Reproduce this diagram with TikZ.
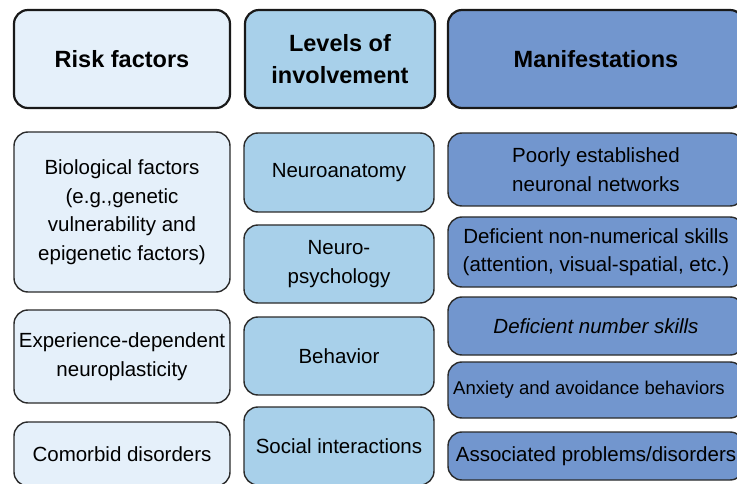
\documentclass[tikz,border=0pt]{standalone}
\usepackage{fontspec}
\setmainfont{Liberation Sans}
\usepackage{xcolor}
\usepackage{tikz}
\definecolor{riskfill}{HTML}{E5F0FA}
\definecolor{levelfill}{HTML}{A8D0EA}
\definecolor{maniffill}{HTML}{7296CE}
\definecolor{edge}{HTML}{2B2B2B}

\begin{document}
\begin{tikzpicture}[x=1pt,y=-1pt,
  box/.style={draw=edge, line width=1.4pt, rounded corners=14pt, inner sep=0pt,
    align=center, font=\fontsize{20.5}{28.5}\selectfont},
  head/.style={box, line width=2.2pt, draw=black!90, minimum height=98pt,
    font=\fontsize{23.5}{32}\selectfont\bfseries},
  risk/.style={fill=riskfill, minimum width=216pt},
  level/.style={fill=levelfill, minimum width=190pt},
  manif/.style={fill=maniffill, minimum width=296pt}]
\useasboundingbox (0,0) rectangle (737,484);
\fill[white] (0,0) rectangle (737,484);
\clip (0,0) rectangle (737,484);
% column headers
\node[head,risk]  (risk)   at (122,59) {Risk factors};
\node[head,level] (levels) at (340,59) {Levels of\\involvement};
\node[head,manif] (manifs) at (596,59) {Manifestations};
% risk factors
\node[box,risk,minimum height=160pt] (bio) at (122,212)
  {Biological factors\\(e.g.,genetic\\vulnerability and\\epigenetic factors)};
\node[box,risk,minimum height=93pt] (plast) at (122,356.5)
  {Experience-dependent\\neuroplasticity};
\node[box,risk,minimum height=64pt] (comorb) at (122,454) {Comorbid disorders};
% levels of involvement
\node[box,level,minimum height=79pt] (anat)   at (339,172.5) {Neuroanatomy};
\node[box,level,minimum height=78pt] (psych)  at (339,264) {Neuro-\\psychology};
\node[box,level,minimum height=78pt] (behav)  at (339,356) {Behavior};
\node[box,level,minimum height=78pt] (social) at (339,446) {Social interactions};
% manifestations
\node[box,manif,minimum height=73pt] (networks) at (596,169.5)
  {Poorly established\\neuronal networks};
\node[box,manif,minimum height=70pt] (nonnum) at (596,252)
  {Deficient non-numerical skills\\(attention, visual-spatial, etc.)};
\node[box,manif,minimum height=58pt] (numskill) at (596,326)
  {\itshape Deficient number skills};
\node[box,manif,minimum height=56pt,font=\fontsize{18.5}{24}\selectfont] (anxiety) at (596,390)
  {Anxiety and avoidance behaviors\hspace*{14pt}};
\node[box,manif,minimum height=48pt] (assoc) at (596,456)
  {Associated problems/disorders};
\end{tikzpicture}
\end{document}
